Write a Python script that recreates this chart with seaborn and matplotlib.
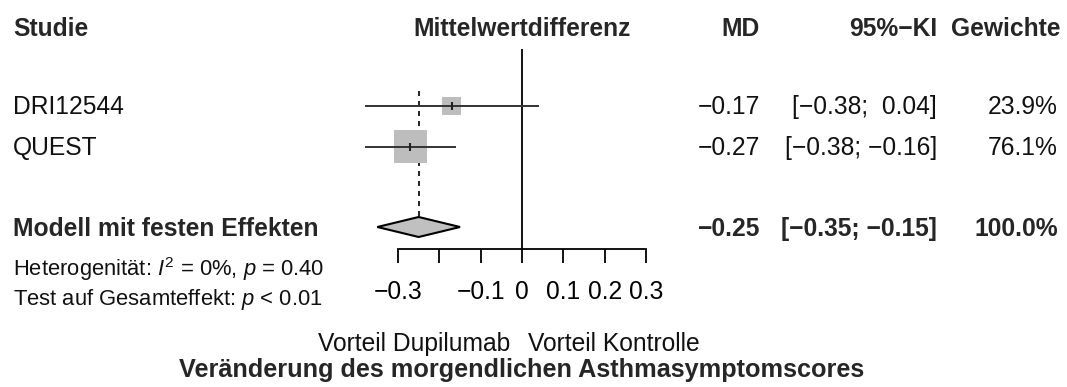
import matplotlib
matplotlib.use("Agg")
import matplotlib.pyplot as plt
from matplotlib.patches import Polygon
from matplotlib.transforms import blended_transform_factory
import numpy as np
import seaborn as sns

# ---------------- data ----------------
studies = ["DRI12544", "QUEST"]
md = [-0.17, -0.27]
ci_lo = [-0.38, -0.38]
ci_hi = [0.04, -0.16]
weights = [23.9, 76.1]
md_labels = ["−0.17", "−0.27"]
ci_labels = ["[−0.38;  0.04]", "[−0.38; −0.16]"]
weight_labels = ["23.9%", "76.1%"]

pooled_md = -0.25
pooled_lo = -0.35
pooled_hi = -0.15
pooled_label = "Modell mit festen Effekten"
pooled_md_label = "−0.25"
pooled_ci_label = "[−0.35; −0.15]"
pooled_w_label = "100.0%"

headers = ["Studie", "Mittelwertdifferenz", "MD", "95%−KI", "Gewichte"]
het_text = "Heterogenität: $I^2$ = 0%, $p$ = 0.40"
test_text = "Test auf Gesamteffekt: $p$ < 0.01"
tick_values = [-0.3, -0.2, -0.1, 0.0, 0.1, 0.2, 0.3]
tick_labels = ["−0.3", "", "−0.1", "0", "0.1", "0.2", "0.3"]
label_left = "Vorteil Dupilumab"
label_right = "Vorteil Kontrolle"
xlabel = "Veränderung des morgendlichen Asthmasymptomscores"

# ---------------- style ----------------
sns.set_theme(style="white")
plt.rcParams["font.family"] = ["Liberation Sans", "DejaVu Sans"]
plt.rcParams["mathtext.fontset"] = "custom"
plt.rcParams["mathtext.rm"] = "Liberation Sans"
plt.rcParams["mathtext.it"] = "Liberation Sans:italic"
plt.rcParams["mathtext.bf"] = "Liberation Sans:bold"

FS = 17.7
FS_SMALL = 15.8
FS_TITLE = 18.2
W, H = 1067, 387
fig = plt.figure(figsize=(W / 100, H / 100), dpi=100)
fig.patch.set_facecolor("white")

# forest-plot axes: x from -0.3 .. 0.3, y in pixel rows (0 at top)
ax_left_px, ax_right_px, ax_bottom_px = 398, 646, 249
ax = fig.add_axes([ax_left_px / W, 1 - ax_bottom_px / H,
                   (ax_right_px - ax_left_px) / W, ax_bottom_px / H])
ax.set_xlim(tick_values[0], tick_values[-1])
ax.set_ylim(ax_bottom_px, 0)
ax.set_facecolor("none")

row_y = [106, 147]
pooled_y = 227
header_y = 28

# CI lines
ax.hlines(row_y, ci_lo, ci_hi, color="#333333", lw=1.4, zorder=3, clip_on=False)
# squares (area proportional to weight)
side_pt = 33 * 0.72 / np.sqrt(max(weights))
sizes = [(side_pt * np.sqrt(w)) ** 2 for w in weights]
sns.scatterplot(x=md, y=row_y, marker="s", s=sizes, color="#bdbdbd",
                linewidth=0, ax=ax, legend=False, zorder=2, clip_on=False)
sns.scatterplot(x=md, y=row_y, marker="|", s=30, color="#222222",
                linewidth=1.5, ax=ax, legend=False, zorder=4, clip_on=False)

# zero line and pooled (dashed) line
ax.vlines(0, 49, ax_bottom_px, color="black", lw=1.3, zorder=1)
ax.vlines(pooled_md, 91, pooled_y - 10, color="black", lw=1.2,
          linestyles=(0, (3, 3)), zorder=1)

# diamond
diamond = Polygon([(pooled_lo, pooled_y), (pooled_md, pooled_y - 10),
                   (pooled_hi, pooled_y), (pooled_md, pooled_y + 10)],
                  closed=True, facecolor="#c0c0c0", edgecolor="black",
                  lw=1.5, zorder=3, clip_on=False)
ax.add_patch(diamond)

# axis
for s in ["top", "left", "right"]:
    ax.spines[s].set_visible(False)
ax.spines["bottom"].set_bounds(tick_values[0], tick_values[-1])
ax.spines["bottom"].set_color("black")
ax.spines["bottom"].set_linewidth(1.3)
ax.set_xticks(tick_values)
ax.set_xticklabels(tick_labels)
ax.tick_params(axis="x", direction="out", length=10, width=1.3, pad=12,
               labelsize=FS, colors="black", bottom=True)
ax.set_yticks([])
ax.grid(False)

# ---------------- text columns ----------------
tr = blended_transform_factory(fig.transFigure, ax.transData)
def fx(px):
    return px / W

BASE = 8  # baseline offset below row centre (px)
x_study, x_md, x_ci, x_w, x_wh = 13, 760, 937, 1058, 1060

fig.text(fx(x_study), header_y + BASE, headers[0], transform=tr, fontsize=FS,
         fontweight="bold", ha="left", va="baseline")
ax.text(0, header_y + BASE, headers[1], fontsize=FS, fontweight="bold",
        ha="center", va="baseline")
fig.text(fx(x_md), header_y + BASE, headers[2], transform=tr, fontsize=FS,
         fontweight="bold", ha="right", va="baseline")
fig.text(fx(x_ci), header_y + BASE, headers[3], transform=tr, fontsize=FS,
         fontweight="bold", ha="right", va="baseline")
fig.text(fx(x_wh), header_y + BASE, headers[4], transform=tr, fontsize=FS,
         fontweight="bold", ha="right", va="baseline")

for y, name, m, c, w in zip(row_y, studies, md_labels, ci_labels, weight_labels):
    fig.text(fx(x_study), y + BASE, name, transform=tr, fontsize=FS,
             ha="left", va="baseline", color="#111111")
    fig.text(fx(x_md), y + BASE, m, transform=tr, fontsize=FS,
             ha="right", va="baseline", color="#111111")
    fig.text(fx(x_ci), y + BASE, c, transform=tr, fontsize=FS,
             ha="right", va="baseline", color="#111111")
    fig.text(fx(x_w), y + BASE, w, transform=tr, fontsize=FS,
             ha="right", va="baseline", color="#111111")

fig.text(fx(x_study), pooled_y + BASE + 1, pooled_label, transform=tr, fontsize=FS,
         fontweight="bold", ha="left", va="baseline")
fig.text(fx(x_md), pooled_y + BASE + 1, pooled_md_label, transform=tr, fontsize=FS,
         fontweight="bold", ha="right", va="baseline")
fig.text(fx(x_ci), pooled_y + BASE + 1, pooled_ci_label, transform=tr, fontsize=FS,
         fontweight="bold", ha="right", va="baseline")
fig.text(fx(x_w), pooled_y + BASE + 1, pooled_w_label, transform=tr, fontsize=FS,
         fontweight="bold", ha="right", va="baseline")

fig.text(fx(x_study), 276, het_text, transform=tr, fontsize=FS_SMALL,
         ha="left", va="baseline", color="#111111")
fig.text(fx(x_study), 305, test_text, transform=tr, fontsize=FS_SMALL,
         ha="left", va="baseline", color="#111111")

ax.text(-0.029, 351, label_left, fontsize=FS, ha="right", va="baseline",
        color="#111111", clip_on=False)
ax.text(0.0145, 351, label_right, fontsize=FS, ha="left", va="baseline",
        color="#111111", clip_on=False)
ax.text(0, 377, xlabel, fontsize=FS_TITLE, fontweight="bold", ha="center",
        va="baseline", clip_on=False)

fig.savefig("out.png", dpi=100, facecolor="white")
